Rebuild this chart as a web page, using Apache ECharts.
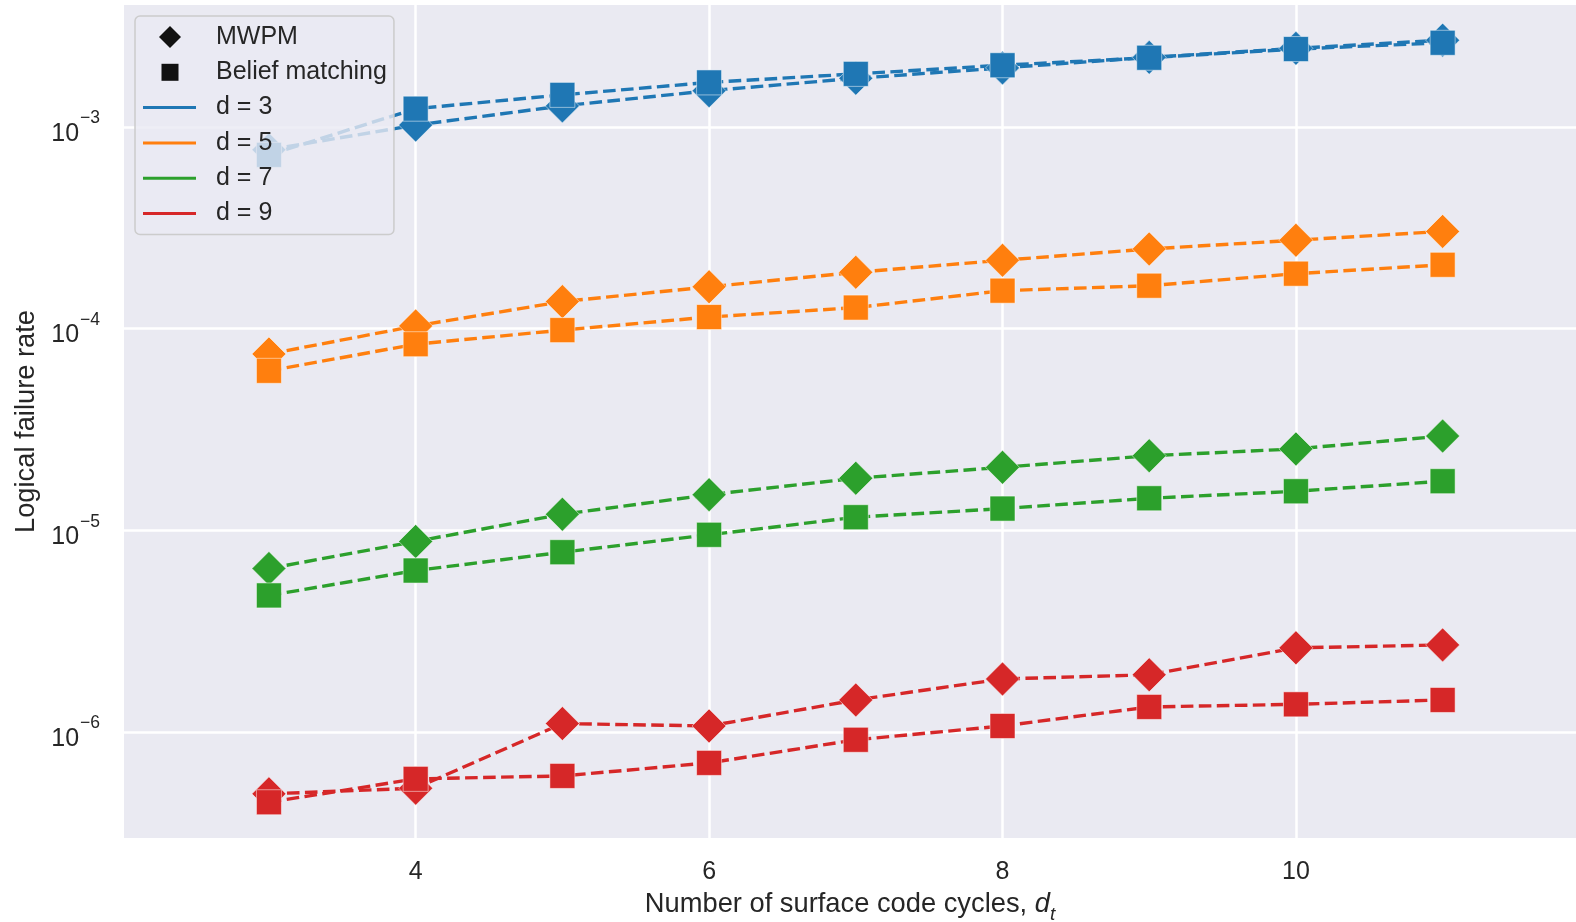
<!DOCTYPE html>
<html>
<head>
<meta charset="utf-8">
<script src="https://cdn.jsdelivr.net/npm/echarts@6/dist/echarts.min.js"></script>
<style>html,body{margin:0;padding:0;background:#ffffff}#chart{width:1576px;height:922px}</style>
</head>
<body>
<div id="chart"></div>
<script>
// ---- data ----
const cycles = [3, 4, 5, 6, 7, 8, 9, 10, 11];
const distanceNames = ['d = 3', 'd = 5', 'd = 7', 'd = 9'];
const decoderNames = ['MWPM', 'Belief matching'];

const mwpm_d3 = [7.7e-4, 1.02e-3, 1.27e-3, 1.51e-3, 1.74e-3, 1.96e-3, 2.21e-3, 2.45e-3, 2.69e-3];
const bm_d3   = [7.26e-4, 1.23e-3, 1.44e-3, 1.66e-3, 1.83e-3, 2.02e-3, 2.20e-3, 2.43e-3, 2.61e-3];
const mwpm_d5 = [7.48e-5, 1.03e-4, 1.36e-4, 1.61e-4, 1.90e-4, 2.18e-4, 2.48e-4, 2.74e-4, 3.03e-4];
const bm_d5   = [6.17e-5, 8.36e-5, 9.82e-5, 1.14e-4, 1.27e-4, 1.54e-4, 1.63e-4, 1.87e-4, 2.07e-4];
const mwpm_d7 = [6.46e-6, 8.80e-6, 1.20e-5, 1.50e-5, 1.81e-5, 2.05e-5, 2.34e-5, 2.53e-5, 2.93e-5];
const bm_d7   = [4.75e-6, 6.31e-6, 7.78e-6, 9.49e-6, 1.16e-5, 1.28e-5, 1.44e-5, 1.56e-5, 1.75e-5];
const mwpm_d9 = [4.93e-7, 5.26e-7, 1.10e-6, 1.07e-6, 1.44e-6, 1.83e-6, 1.92e-6, 2.61e-6, 2.70e-6];
const bm_d9   = [4.48e-7, 5.85e-7, 6.05e-7, 7.02e-7, 9.14e-7, 1.07e-6, 1.33e-6, 1.37e-6, 1.44e-6];

const xTickValues = [4, 6, 8, 10];
const yTickExponents = [-6, -5, -4, -3];

// ---- axis ranges ----
const xMin = 2.012, xMax = 11.909;
const yMin = Math.pow(10, -6.526), yMax = Math.pow(10, -2.396);

// ---- styling ----
const FONT = '"Liberation Sans", Arial, "DejaVu Sans", sans-serif';
const TXT = '#262626';
const colors = ['#1f77b4', '#ff7f0e', '#2ca02c', '#d62728'];
const mwpmSets = [mwpm_d3, mwpm_d5, mwpm_d7, mwpm_d9];
const bmSets = [bm_d3, bm_d5, bm_d7, bm_d9];

const ICON_DIAMOND = 'path://M0,0M68,22M27,0L38,11L27,22L16,11Z';
const ICON_SQUARE = 'path://M0,0M68,22M18.5,2.5L35.5,2.5L35.5,19.5L18.5,19.5Z';
const ICON_LINE = 'path://M0,0M68,22M0,9.5L53,9.5L53,12.5L0,12.5Z';

function pairs(vals) { return cycles.map((c, i) => [c, vals[i]]); }

const series = [];
distanceNames.forEach((nm, k) => {
  const common = {
    type: 'line', name: nm, color: colors[k],
    lineStyle: { width: 3.4, type: [12.6, 5.4], color: colors[k] },
    itemStyle: { color: colors[k], borderColor: 'rgba(255,255,255,0.5)', borderWidth: 1 },
    showSymbol: true, animation: false, z: 2
  };
  series.push(Object.assign({}, common, { symbol: 'diamond', symbolSize: 34, data: pairs(mwpmSets[k]) }));
  series.push(Object.assign({}, common, { symbol: 'rect', symbolSize: 25, data: pairs(bmSets[k]) }));
});
decoderNames.forEach(nm => series.push({ type: 'line', name: nm, data: [], color: '#111111' }));

const legendData = [
  { name: decoderNames[0], icon: ICON_DIAMOND, itemStyle: { color: '#111111', borderWidth: 0 } },
  { name: decoderNames[1], icon: ICON_SQUARE, itemStyle: { color: '#111111', borderWidth: 0 } }
].concat(distanceNames.map((nm, k) => ({ name: nm, icon: ICON_LINE, itemStyle: { color: colors[k], borderWidth: 0 } })));

const chart = echarts.init(document.getElementById('chart'), null, { renderer: 'canvas' });
chart.setOption({
  animation: false,
  backgroundColor: '#ffffff',
  textStyle: { fontFamily: FONT, color: TXT },
  grid: { left: 124, right: 0, top: 5, bottom: 84, show: true, backgroundColor: '#EAEAF2', borderWidth: 0,
          containLabel: false, outerBoundsMode: 'none' },
  legend: {
    orient: 'vertical', left: 135, top: 16,
    padding: [8, 7, 8, 8], itemGap: 9.3, itemWidth: 68, itemHeight: 22,
    backgroundColor: 'rgba(234,234,242,0.8)', borderColor: '#cccccc', borderWidth: 1.5, borderRadius: 5,
    textStyle: { fontFamily: FONT, fontSize: 25, color: TXT, lineHeight: 26 },
    selectedMode: false,
    data: legendData, z: 10
  },
  xAxis: {
    type: 'value', min: xMin, max: xMax,
    axisLine: { show: false }, axisTick: { show: false },
    splitLine: { show: true, showMinLine: false, showMaxLine: false, lineStyle: { color: '#ffffff', width: 2.5 } },
    axisLabel: {
      showMinLabel: false, showMaxLabel: false, margin: 22,
      fontFamily: FONT, fontSize: 25, color: TXT,
      formatter: v => (xTickValues.indexOf(Math.round(v * 1000) / 1000) >= 0 ? String(Math.round(v)) : '')
    },
    name: '{n|Number of surface code cycles, }{i|d}{s|t}',
    nameLocation: 'middle', nameGap: 58,
    nameTextStyle: {
      rich: {
        n: { fontFamily: FONT, fontSize: 27.3, color: TXT, lineHeight: 28, padding: [0, 0, 6, 0], verticalAlign: 'bottom' },
        i: { fontFamily: FONT, fontSize: 27.3, color: TXT, fontStyle: 'italic', lineHeight: 28, padding: [0, 0, 6, 0], verticalAlign: 'bottom' },
        s: { fontFamily: FONT, fontSize: 19, color: TXT, fontStyle: 'italic', lineHeight: 20, verticalAlign: 'bottom' }
      }
    }
  },
  yAxis: {
    type: 'log', logBase: 10, min: yMin, max: yMax,
    axisLine: { show: false }, axisTick: { show: false }, minorTick: { show: false },
    splitLine: { show: true, showMinLine: false, showMaxLine: false, lineStyle: { color: '#ffffff', width: 2.5 } },
    axisLabel: {
      showMinLabel: false, showMaxLabel: false, margin: 24, padding: [14, 0, 0, 0],
      formatter: v => {
        const e = Math.round(Math.log10(v));
        if (yTickExponents.indexOf(e) < 0 || Math.abs(Math.log10(v) - e) > 1e-6) return '';
        return '{b|10}{s|\u2212' + (-e) + '}';
      },
      rich: {
        b: { fontFamily: FONT, fontSize: 25, color: TXT, lineHeight: 25, verticalAlign: 'bottom' },
        s: { fontFamily: FONT, fontSize: 17.5, color: TXT, lineHeight: 17.5, padding: [0, 0, 19, 1], verticalAlign: 'bottom' }
      }
    },
    name: 'Logical failure rate', nameLocation: 'middle', nameGap: 76,
    nameTextStyle: { fontFamily: FONT, fontSize: 27.3, color: TXT, lineHeight: 28 }
  },
  series: series
});
</script>
</body>
</html>
